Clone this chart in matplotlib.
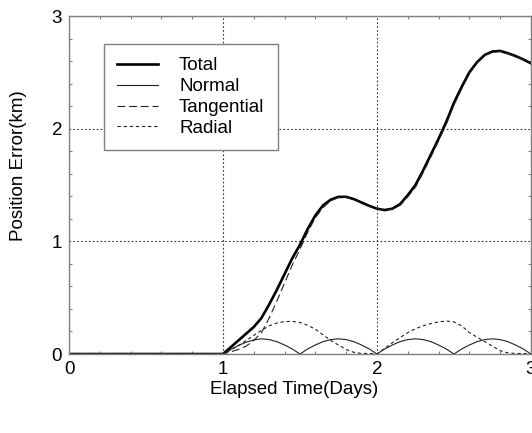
import matplotlib.pyplot as plt
import numpy as np

plt.rcParams['font.family'] = ['Liberation Sans', 'DejaVu Sans']

# Data (days 0 -> 1 flat, then every 0.05 day)
days = [0.0] + list(np.round(np.arange(1.0, 3.001, 0.05), 2))

total = [0.0,
         0.00, 0.06, 0.12, 0.18, 0.24, 0.32, 0.44, 0.57, 0.71, 0.85,
         0.97, 1.11, 1.23, 1.32, 1.37, 1.395, 1.395, 1.375, 1.345, 1.315,
         1.29, 1.278, 1.29, 1.33, 1.41, 1.50, 1.63, 1.77, 1.91, 2.06,
         2.23, 2.37, 2.50, 2.59, 2.655, 2.685, 2.69, 2.67, 2.645, 2.615,
         2.58]
normal = [0.0,
          0.00, 0.04, 0.075, 0.105, 0.125, 0.135, 0.128, 0.11, 0.08, 0.045,
          0.00, 0.045, 0.08, 0.11, 0.128, 0.135, 0.128, 0.11, 0.08, 0.045,
          0.00, 0.045, 0.08, 0.11, 0.128, 0.135, 0.128, 0.11, 0.08, 0.045,
          0.00, 0.045, 0.08, 0.11, 0.128, 0.135, 0.128, 0.11, 0.08, 0.045,
          0.00]
tangential = [0.0,
              0.00, 0.02, 0.04, 0.07, 0.12, 0.19, 0.32, 0.47, 0.63, 0.79,
              0.93, 1.08, 1.21, 1.30, 1.36, 1.39, 1.39, 1.37, 1.34, 1.31,
              1.29, 1.277, 1.285, 1.32, 1.395, 1.48, 1.61, 1.75, 1.89, 2.04,
              2.21, 2.355, 2.49, 2.585, 2.65, 2.68, 2.687, 2.668, 2.644, 2.615,
              2.58]
radial = [0.0,
          0.00, 0.035, 0.075, 0.12, 0.165, 0.21, 0.25, 0.275, 0.288, 0.29,
          0.28, 0.255, 0.22, 0.17, 0.12, 0.08, 0.04, 0.015, 0.005, 0.005,
          0.00, 0.05, 0.10, 0.145, 0.19, 0.225, 0.25, 0.27, 0.285, 0.293,
          0.285, 0.25, 0.19, 0.15, 0.11, 0.07, 0.03, 0.01, 0.005, 0.005,
          0.00]

fig = plt.figure(figsize=(5.32, 4.33), dpi=100)
ax = fig.add_axes([0.1297, 0.1824, 0.8683, 0.7806])

ax.plot(days, total, color='black', lw=1.9, label='Total')
ax.plot(days, normal, color='#222222', lw=0.8, label='Normal')
ax.plot(days, tangential, color='#222222', lw=0.8, dashes=(7, 3.5), label='Tangential')
ax.plot(days, radial, color='#222222', lw=0.8, dashes=(3, 2.5), label='Radial')

ax.set_xlim(0, 3)
ax.set_ylim(0, 3)
ax.set_xticks([0, 1, 2, 3])
ax.set_yticks([0, 1, 2, 3])
ax.set_xticks(np.arange(0, 3.01, 0.2), minor=True)
ax.set_yticks(np.arange(0, 3.01, 0.2), minor=True)
ax.tick_params(which='both', direction='in', top=True, right=True, color='#808080')
ax.tick_params(which='major', length=0, labelsize=13.5, pad=5)
ax.tick_params(which='minor', length=2.5, width=0.8)
ax.grid(True, which='major', linestyle=(0, (1.5, 2)), color='#333333', lw=0.8)

for s in ax.spines.values():
    s.set_color('#808080')
    s.set_linewidth(1.0)

ax.set_xlabel('Elapsed Time(Days)', fontsize=13.5)
ax.set_ylabel('Position Error(km)', fontsize=13.5)
ax.xaxis.set_label_coords(0.487, -0.105)
ax.xaxis.label.set_va('center')
ax.yaxis.set_label_coords(-0.11, 0.556)
ax.yaxis.label.set_va('center')

leg = ax.legend(loc='upper left', bbox_to_anchor=(0.0758, 0.917), borderaxespad=0,
                fontsize=13.5, fancybox=False, framealpha=1, edgecolor='#808080',
                handlelength=2.2, handletextpad=1.1, labelspacing=0.2, borderpad=0.7)
leg.get_frame().set_linewidth(1.0)

fig.savefig('out.png', dpi=100)
